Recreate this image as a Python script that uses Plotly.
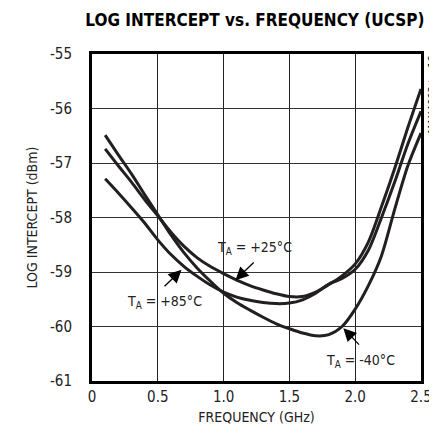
import plotly.graph_objects as go

freq = [0.1, 0.2, 0.3, 0.4, 0.5, 0.6, 0.7, 0.8, 0.9, 1.0, 1.1, 1.2, 1.3, 1.4, 1.5,
        1.6, 1.7, 1.8, 1.9, 2.0, 2.1, 2.2, 2.3, 2.4, 2.5]

t_m40 = [-56.49, -56.85, -57.2, -57.58, -57.95, -58.32, -58.65, -58.93, -59.17, -59.39,
         -59.56, -59.70, -59.83, -59.95, -60.04, -60.12, -60.17, -60.15, -60.0, -59.68,
         -59.25, -58.7, -57.85, -57.05, -56.45]

t_p25 = [-56.74, -57.05, -57.35, -57.67, -57.97, -58.27, -58.53, -58.74, -58.90, -59.03,
         -59.15, -59.25, -59.33, -59.40, -59.45, -59.45, -59.37, -59.23, -59.07, -58.85,
         -58.45, -57.8, -57.1, -56.35, -55.64]

t_p85 = [-57.29, -57.55, -57.82, -58.1, -58.41, -58.68, -58.9, -59.08, -59.24, -59.37,
         -59.46, -59.52, -59.56, -59.58, -59.57, -59.51, -59.39, -59.22, -59.12, -58.95,
         -58.6, -58.0, -57.35, -56.65, -56.05]

x_ticks = [0, 0.5, 1.0, 1.5, 2.0, 2.5]
x_tick_labels = ["0", "0.5", "1.0", "1.5", "2.0", "2.5"]
y_ticks = [-61, -60, -59, -58, -57, -56, -55]
y_tick_labels = ["-61", "-60", "-59", "-58", "-57", "-56", "-55"]

FONT = "DejaVu Sans Condensed, Liberation Sans Narrow, Arial Narrow, sans-serif"
LINE = "#231f20"

fig = go.Figure()
for ys in (t_m40, t_p25, t_p85):
    fig.add_trace(go.Scatter(x=freq, y=ys, mode="lines",
                             line=dict(color=LINE, width=3, shape="spline", smoothing=0.8),
                             showlegend=False, hoverinfo="skip"))

def label(text, x, y, ax, ay, tx, ty):
    fig.add_annotation(x=x, y=y, ax=ax, ay=ay, xref="x", yref="y", axref="x", ayref="y",
                       text="", showarrow=True, arrowhead=2, arrowsize=2.0,
                       arrowwidth=1.3, arrowcolor="#000")
    fig.add_annotation(x=tx, y=ty, xref="x", yref="y", text=text, showarrow=False,
                       font=dict(family=FONT, size=14, color="#222"))

label("T<sub>A</sub> = +25°C", 1.09, -59.15, 1.24, -58.8, 1.235, -58.56)
label("T<sub>A</sub> = +85°C", 0.68, -58.96, 0.54, -59.29, 0.55, -59.55)
label("T<sub>A</sub> = -40°C", 1.91, -60.03, 2.04, -60.36, 2.04, -60.64)

fig.add_annotation(x=1.0, y=1.0, xref="paper", yref="paper", xanchor="left", yanchor="top",
                   xshift=2, text="MAX4003 toc18", textangle=-90, showarrow=False,
                   font=dict(family=FONT, size=11, color="#000"))

fig.update_layout(
    width=437, height=434,
    margin=dict(l=84, r=24, t=46, b=61),
    paper_bgcolor="white", plot_bgcolor="white",
    font=dict(family=FONT, color="#222"),
    title=dict(text="<b>LOG INTERCEPT vs. FREQUENCY (UCSP)</b>", xref="paper", x=0.495,
               xanchor="center", y=0.985, yanchor="top",
               font=dict(family=FONT, size=17, color="#000")),
)
fig.update_xaxes(range=[0, 2.5], tickvals=x_ticks, ticktext=x_tick_labels,
                 showgrid=True, gridcolor="#222", gridwidth=1, zeroline=False,
                 showline=True, linecolor="#000", linewidth=3, mirror=True, ticks="",
                 tickfont=dict(family=FONT, size=15, color="#222"),
                 title=dict(text="FREQUENCY (GHz)", font=dict(family=FONT, size=14, color="#222"),
                            standoff=8))
fig.update_yaxes(range=[-61, -55], tickvals=y_ticks, ticktext=y_tick_labels,
                 showgrid=True, gridcolor="#333", gridwidth=1, zeroline=False,
                 showline=True, linecolor="#000", linewidth=3, mirror=True, ticks="",
                 ticklabelstandoff=14,
                 tickfont=dict(family=FONT, size=15, color="#222"),
                 title=dict(text="LOG INTERCEPT (dBm)", font=dict(family=FONT, size=14, color="#222"),
                            standoff=10))

fig.write_html("out.html")
